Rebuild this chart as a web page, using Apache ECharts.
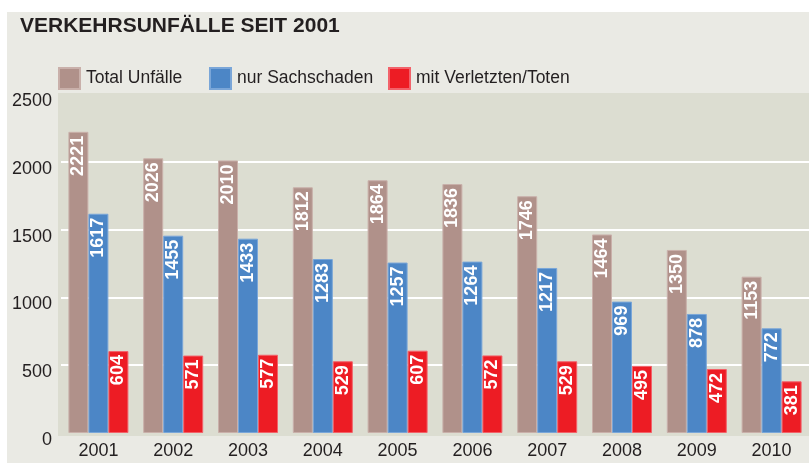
<!DOCTYPE html>
<html>
<head>
<meta charset="utf-8">
<script src="https://cdn.jsdelivr.net/npm/echarts@6/dist/echarts.min.js"></script>
<style>
  html, body { margin: 0; padding: 0; background: #fff; }
  #chart { width: 809px; height: 463px; }
</style>
</head>
<body>
<div id="chart"></div>
<script>
// Daten
const years = ["2001", "2002", "2003", "2004", "2005", "2006", "2007", "2008", "2009", "2010"];
const totalUnfaelle = [2221, 2026, 2010, 1812, 1864, 1836, 1746, 1464, 1350, 1153];
const nurSachschaden = [1617, 1455, 1433, 1283, 1257, 1264, 1217, 969, 878, 772];
const mitVerletzten = [604, 571, 577, 529, 607, 572, 529, 495, 472, 381];
const yTicks = [0, 500, 1000, 1500, 2000, 2500];
const seriesNames = ["Total Unfälle", "nur Sachschaden", "mit Verletzten/Toten"];

const sans = "'Liberation Sans', Arial, sans-serif";
const textColor = "#231f20";

const chart = echarts.init(document.getElementById("chart"));

const barLabel = {
  show: true,
  position: "insideTop",
  rotate: 90,
  align: "right",
  verticalAlign: "middle",
  distance: 4,
  color: "#fff",
  fontFamily: sans,
  fontWeight: "bold",
  fontSize: 18,
};

const makeSeries = (name, data, color, border) => ({
  name: name,
  type: "bar",
  data: data,
  barWidth: 20,
  barGap: "0%",
  itemStyle: { color: color, borderColor: border, borderWidth: 1 },
  label: barLabel,
  emphasis: { disabled: true },
});

// Legende: drei Einträge mit festen Positionen
const legendLeft = [58, 209, 388];
const makeLegend = (name, i) => ({
  left: legendLeft[i],
  top: 67,
  padding: 0,
  itemWidth: 21,
  itemHeight: 21,
  icon: "rect",
  textStyle: { fontFamily: sans, fontSize: 17.5, color: textColor, padding: [0, 0, 0, 1] },
  data: [name],
});

const option = {
  animation: false,
  backgroundColor: "#fff",
  graphic: [
    { type: "rect", z: -10, shape: { x: 7, y: 12, width: 802, height: 451 }, style: { fill: "#eaeae4" } },
    { type: "rect", z: -9, shape: { x: 58, y: 93, width: 751, height: 343 }, style: { fill: "#dcddd1" } },
  ],
  title: {
    text: "VERKEHRSUNFÄLLE SEIT 2001",
    left: 15,
    top: 11,
    textStyle: {
      fontFamily: sans,
      fontWeight: "bold",
      fontSize: 21,
      color: textColor,
    },
  },
  legend: seriesNames.map(makeLegend),
  grid: { left: 61, right: -7, top: 94, bottom: 30 },
  xAxis: {
    type: "category",
    data: years,
    axisLine: { show: false },
    axisTick: { show: false },
    axisLabel: { fontFamily: sans, fontSize: 18, color: textColor, margin: 9 },
  },
  yAxis: {
    type: "value",
    min: yTicks[0],
    max: yTicks[yTicks.length - 1],
    interval: 500,
    axisLine: { show: false },
    axisTick: { show: false },
    axisLabel: {
      fontFamily: sans,
      fontSize: 18,
      color: textColor,
      margin: 9,
      verticalAlign: "top",
      lineHeight: 14,
      formatter: (v) => String(v),
    },
    splitLine: {
      lineStyle: { color: "#ffffff", width: 2 },
      showMinLine: false,
      showMaxLine: false,
    },
  },
  series: [
    makeSeries(seriesNames[0], totalUnfaelle, "#b0918a", "#c9b0aa"),
    makeSeries(seriesNames[1], nurSachschaden, "#4c86c6", "#7aa6d8"),
    makeSeries(seriesNames[2], mitVerletzten, "#ed1c24", "#f2626a"),
  ],
};

chart.setOption(option);
</script>
</body>
</html>
